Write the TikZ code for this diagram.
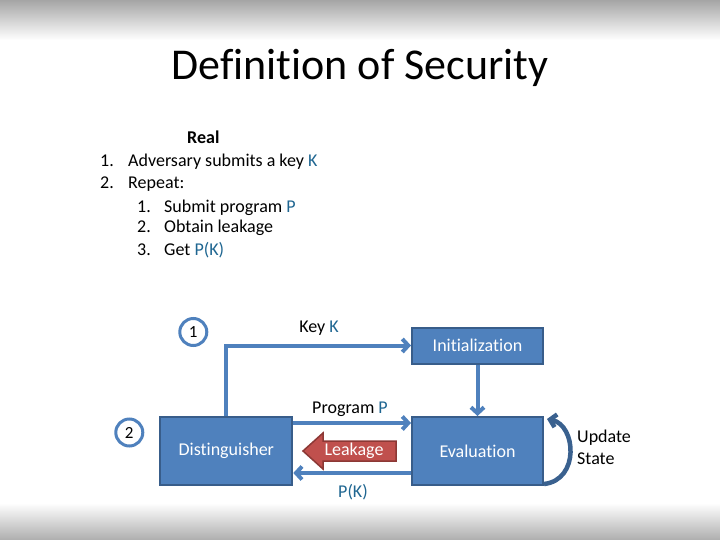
\documentclass[tikz,border=0pt]{standalone}
\usepackage{fontspec}
\setmainfont[Ligatures=NoCommon]{Carlito}
\usetikzlibrary{arrows.meta,calc}
\definecolor{boxblue}{RGB}{79,129,189}
\definecolor{boxedge}{RGB}{56,93,138}
\definecolor{txtblue}{RGB}{31,102,145}
\definecolor{leakred}{RGB}{192,80,77}
\definecolor{leakedge}{RGB}{140,56,53}
\definecolor{bandgray}{RGB}{165,165,165}
\tikzset{
  bluebox/.style={draw=boxedge, line width=2pt, fill=boxblue, text=white,
    font=\fontsize{18}{21}\selectfont, inner sep=0pt},
  conn/.style={draw=boxblue, line width=4pt,
    -{Straight Barb[length=6pt,width=13pt]}},
  numcirc/.style={circle, draw=boxblue, line width=3pt, fill=white,
    minimum size=27pt, inner sep=0pt, font=\fontsize{17}{19}\selectfont},
  lbl/.style={font=\fontsize{18}{21}\selectfont, inner sep=0pt},
  listtxt/.style={font=\fontsize{18}{21}\selectfont, anchor=base west, inner sep=0pt},
}
\begin{document}
\begin{tikzpicture}[x=1pt,y=-1pt]
\useasboundingbox (0,0) rectangle (720,540);
% background bands
\shade[top color=bandgray, bottom color=white] (0,0) rectangle (720,40);
\shade[top color=white, bottom color=bandgray!90] (0,503) rectangle (720,540);
% title
\node[font=\fontsize{44}{52}\selectfont, inner sep=0pt] (title) at (360,68) {Definition of Security};
% list
\node[listtxt, font=\fontsize{18}{21}\bfseries] (real) at (187,144) {Real};
\node[listtxt] (n1) at (100,167) {1.};
\node[listtxt] (t1) at (128,167) {Adversary submits a key \textcolor{txtblue}{K}};
\node[listtxt] (n2) at (100,189) {2.};
\node[listtxt] (t2) at (128,189) {Repeat:};
\node[listtxt] (s1) at (137,212) {1.};
\node[listtxt] (u1) at (164,212) {Submit program \textcolor{txtblue}{P}};
\node[listtxt] (s2) at (137,233) {2.};
\node[listtxt] (u2) at (164,233) {Obtain leakage};
\node[listtxt] (s3) at (137,255) {3.};
\node[listtxt] (u3) at (164,255) {Get \textcolor{txtblue}{P(K)}};
% boxes
\node[bluebox, minimum width=131pt, minimum height=36pt] (init) at (477.5,345.5) {Initialization};
\node[bluebox, minimum width=132pt, minimum height=68pt] (dist) at (226.3,451) {Distinguisher};
\node[bluebox, minimum width=131pt, minimum height=68pt] (eval) at (477.5,451) {Evaluation};
% circles
\node[numcirc] (c1) at (193.3,332) {1};
\node[numcirc] (c2) at (129.3,432.5) {2};
% connectors
\draw[conn] (dist.north) |- (init.west);
\draw[conn] (init.south) -- (eval.north);
\draw[conn] ([yshift=28pt]dist.east) -- ([yshift=28pt]eval.west);
\draw[conn] ([yshift=-22pt]eval.west) -- ([yshift=-22pt]dist.east);
% update loop
\draw[draw=boxedge!90!boxblue, line width=4.5pt, -{Straight Barb[length=6pt,width=13pt]}]
  ([yshift=2pt]eval.south east) .. controls +(36,-4) and +(29,6) .. ([xshift=3pt,yshift=-3pt]eval.north east);
% leakage block arrow
\filldraw[fill=leakred, draw=leakedge, line width=1.5pt]
  (303,451) -- (323,433) -- (323,441) -- (396,441) -- (396,461) -- (323,461) -- (323,469) -- cycle;
\node[lbl, text=white] (leak) at (354,451) {Leakage};
% labels
\node[lbl] (keyk) at (319,328) {Key \textcolor{txtblue}{K}};
\node[lbl] (prog) at (350,409) {Program \textcolor{txtblue}{P}};
\node[lbl, text=txtblue] (pk) at (353,492) {P(K)};
\node[lbl, align=left, anchor=west, font=\fontsize{18}{22}\selectfont] (upd) at (577,447) {Update\\State};
\end{tikzpicture}
\end{document}
